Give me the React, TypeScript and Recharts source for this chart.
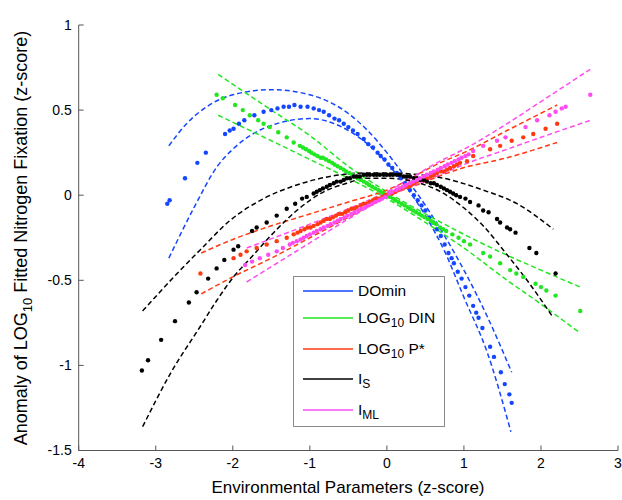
import React from "react";
import { ComposedChart, Scatter, Line, XAxis, YAxis, Legend } from "recharts";

// axis ticks
const xTicks = [-4, -3, -2, -1, 0, 1, 2, 3];
const yTicks = [-1.5, -1, -0.5, 0, 0.5, 1];

// fitted values (dots) as [x, y]
const domDots = [
  [-2.85, -0.05], [-2.82, -0.03], [-2.62, 0.1], [-2.46, 0.19], [-2.35, 0.25], [-2.1, 0.36],
  [-2.04, 0.38], [-1.99, 0.39], [-1.92, 0.42], [-1.85, 0.44], [-1.72, 0.47], [-1.6, 0.49],
  [-1.5, 0.5], [-1.42, 0.51], [-1.34, 0.52], [-1.27, 0.52], [-1.2, 0.53], [-1.12, 0.52],
  [-1.03, 0.52], [-0.95, 0.51], [-0.88, 0.5], [-0.82, 0.49], [-0.75, 0.47], [-0.68, 0.45],
  [-0.62, 0.44], [-0.56, 0.42], [-0.5, 0.4], [-0.44, 0.38], [-0.38, 0.36], [-0.3, 0.33],
  [-0.24, 0.3], [-0.18, 0.28], [-0.12, 0.25], [-0.08, 0.23], [-0.03, 0.21], [0.02, 0.18],
  [0.07, 0.16], [0.13, 0.13], [0.18, 0.1], [0.24, 0.07], [0.3, 0.03], [0.35, 0.0],
  [0.4, -0.03], [0.45, -0.06], [0.5, -0.09], [0.55, -0.13], [0.6, -0.16], [0.65, -0.2],
  [0.7, -0.24], [0.75, -0.29], [0.8, -0.34], [0.84, -0.37], [0.87, -0.4], [0.92, -0.45],
  [0.97, -0.49], [1.02, -0.54], [1.07, -0.59], [1.12, -0.65], [1.16, -0.69], [1.19, -0.72],
  [1.24, -0.78], [1.34, -0.89], [1.39, -0.95], [1.48, -1.04], [1.53, -1.11], [1.59, -1.17],
  [1.62, -1.22],
];
const dinDots = [
  [-2.21, 0.59], [-2.13, 0.57], [-1.97, 0.53], [-1.87, 0.5], [-1.78, 0.47], [-1.67, 0.44],
  [-1.6, 0.42], [-1.52, 0.4], [-1.41, 0.37], [-1.3, 0.34], [-1.21, 0.31], [-1.13, 0.29],
  [-1.09, 0.28], [-1.05, 0.27], [-1.01, 0.26], [-0.98, 0.25], [-0.94, 0.24], [-0.9, 0.23],
  [-0.86, 0.22], [-0.83, 0.22], [-0.79, 0.21], [-0.75, 0.2], [-0.71, 0.19], [-0.68, 0.18],
  [-0.64, 0.17], [-0.6, 0.16], [-0.56, 0.15], [-0.53, 0.14], [-0.49, 0.13], [-0.45, 0.12],
  [-0.41, 0.11], [-0.38, 0.1], [-0.34, 0.09], [-0.3, 0.08], [-0.26, 0.07], [-0.23, 0.06],
  [-0.19, 0.05], [-0.15, 0.04], [-0.11, 0.03], [-0.08, 0.02], [-0.04, 0.01], [0.0, 0.0],
  [0.04, -0.01], [0.08, -0.02], [0.11, -0.03], [0.15, -0.04], [0.19, -0.05], [0.23, -0.06],
  [0.27, -0.07], [0.3, -0.08], [0.34, -0.09], [0.38, -0.1], [0.42, -0.11], [0.45, -0.12],
  [0.49, -0.13], [0.53, -0.14], [0.57, -0.15], [0.6, -0.16], [0.64, -0.17], [0.69, -0.19],
  [0.73, -0.2], [0.77, -0.21], [0.85, -0.23], [0.93, -0.25], [1.0, -0.27], [1.08, -0.29],
  [1.25, -0.34], [1.34, -0.36], [1.47, -0.4], [1.6, -0.44], [1.68, -0.46], [1.77, -0.48],
  [1.93, -0.52], [2.0, -0.54], [2.07, -0.56], [2.19, -0.59], [2.51, -0.68],
];
const pDots = [
  [-2.42, -0.46], [-1.99, -0.37], [-1.9, -0.35], [-1.82, -0.33], [-1.69, -0.31], [-1.56, -0.29],
  [-1.43, -0.27], [-1.3, -0.25], [-1.21, -0.23], [-1.16, -0.22], [-1.12, -0.21], [-1.07, -0.2],
  [-1.03, -0.19], [-0.99, -0.19], [-0.95, -0.18], [-0.9, -0.17], [-0.86, -0.16], [-0.82, -0.15],
  [-0.78, -0.14], [-0.74, -0.14], [-0.7, -0.13], [-0.66, -0.12], [-0.62, -0.11], [-0.58, -0.11],
  [-0.54, -0.1], [-0.5, -0.09], [-0.46, -0.08], [-0.42, -0.08], [-0.39, -0.07], [-0.34, -0.06],
  [-0.3, -0.05], [-0.26, -0.05], [-0.22, -0.04], [-0.18, -0.03], [-0.14, -0.02], [-0.1, -0.02],
  [-0.06, -0.01], [-0.02, 0.0], [0.02, 0.01], [0.06, 0.01], [0.1, 0.02], [0.14, 0.03],
  [0.18, 0.04], [0.23, 0.05], [0.27, 0.05], [0.31, 0.06], [0.35, 0.07], [0.39, 0.08],
  [0.44, 0.09], [0.48, 0.09], [0.52, 0.1], [0.57, 0.11], [0.61, 0.12], [0.65, 0.13],
  [0.7, 0.14], [0.74, 0.14], [0.78, 0.15], [0.82, 0.16], [0.87, 0.17], [0.91, 0.18],
  [0.95, 0.19], [1.04, 0.2], [1.12, 0.23], [1.34, 0.27], [1.47, 0.29], [1.62, 0.32],
  [1.77, 0.34], [1.9, 0.36], [2.06, 0.39], [2.21, 0.42],
];
const isDots = [
  [-3.18, -1.03], [-3.1, -0.97], [-2.93, -0.85], [-2.75, -0.74], [-2.57, -0.63], [-2.47, -0.57],
  [-2.32, -0.49], [-2.21, -0.43], [-2.11, -0.38], [-1.99, -0.32], [-1.93, -0.3], [-1.75, -0.21],
  [-1.69, -0.19], [-1.56, -0.16], [-1.43, -0.12], [-1.3, -0.08], [-1.19, -0.05], [-1.1, -0.02],
  [-1.04, -0.01], [-0.95, 0.01], [-0.91, 0.02], [-0.87, 0.03], [-0.83, 0.04], [-0.78, 0.05],
  [-0.74, 0.06], [-0.69, 0.07], [-0.65, 0.08], [-0.6, 0.08], [-0.56, 0.09], [-0.52, 0.1],
  [-0.48, 0.1], [-0.43, 0.11], [-0.39, 0.11], [-0.35, 0.11], [-0.3, 0.12], [-0.26, 0.12],
  [-0.22, 0.12], [-0.17, 0.12], [-0.13, 0.12], [-0.09, 0.12], [-0.04, 0.12], [0.0, 0.12],
  [0.04, 0.12], [0.08, 0.12], [0.13, 0.12], [0.17, 0.12], [0.22, 0.11], [0.26, 0.11],
  [0.3, 0.11], [0.35, 0.1], [0.39, 0.1], [0.43, 0.09], [0.48, 0.09], [0.52, 0.08],
  [0.57, 0.07], [0.61, 0.07], [0.65, 0.06], [0.7, 0.05], [0.74, 0.04], [0.78, 0.03],
  [0.82, 0.02], [0.86, 0.01], [0.9, 0.0], [0.95, -0.01], [1.02, -0.02], [1.08, -0.04],
  [1.19, -0.06], [1.25, -0.09], [1.32, -0.1], [1.43, -0.14], [1.47, -0.16], [1.56, -0.19],
  [1.6, -0.2], [1.67, -0.22], [1.85, -0.31], [1.94, -0.34], [2.19, -0.46],
];
const imlDots = [
  [-1.84, -0.41], [-1.75, -0.39], [-1.65, -0.37], [-1.54, -0.35], [-1.43, -0.33], [-1.35, -0.31],
  [-1.26, -0.29], [-1.22, -0.28], [-1.17, -0.27], [-1.12, -0.26], [-1.08, -0.25], [-1.04, -0.24],
  [-1.0, -0.23], [-0.95, -0.22], [-0.91, -0.21], [-0.86, -0.2], [-0.82, -0.19], [-0.77, -0.18],
  [-0.73, -0.17], [-0.68, -0.16], [-0.64, -0.15], [-0.6, -0.14], [-0.55, -0.13], [-0.51, -0.12],
  [-0.46, -0.11], [-0.42, -0.1], [-0.37, -0.09], [-0.33, -0.08], [-0.28, -0.07], [-0.24, -0.06],
  [-0.19, -0.05], [-0.15, -0.04], [-0.1, -0.03], [-0.06, -0.02], [-0.02, -0.01], [0.03, 0.01],
  [0.07, 0.02], [0.12, 0.03], [0.16, 0.04], [0.21, 0.05], [0.25, 0.06], [0.3, 0.07],
  [0.34, 0.08], [0.39, 0.09], [0.43, 0.1], [0.48, 0.11], [0.52, 0.12], [0.57, 0.13],
  [0.61, 0.14], [0.66, 0.15], [0.7, 0.16], [0.75, 0.17], [0.79, 0.18], [0.84, 0.19],
  [0.88, 0.2], [0.93, 0.21], [0.97, 0.22], [1.02, 0.23], [1.06, 0.24], [1.12, 0.26],
  [1.25, 0.29], [1.43, 0.32], [1.54, 0.34], [1.8, 0.4], [1.95, 0.44], [2.11, 0.47],
  [2.19, 0.49], [2.27, 0.51], [2.32, 0.52], [2.64, 0.59],
];

// confidence bounds (dashed), [x, y]
const domUpper = [
  [-2.83, 0.29], [-2.6, 0.42], [-2.4, 0.5], [-2.0, 0.59], [-1.5, 0.62], [-1.0, 0.59],
  [-0.5, 0.48], [-0.25, 0.38], [0.0, 0.25], [0.25, 0.1], [0.5, -0.06], [0.75, -0.24],
  [1.0, -0.44], [1.3, -0.71], [1.62, -1.04],
];
const domLower = [
  [-2.83, -0.37], [-2.5, -0.07], [-2.2, 0.17], [-2.0, 0.27], [-1.5, 0.41], [-1.0, 0.45],
  [-0.5, 0.38], [-0.25, 0.3], [0.0, 0.19], [0.25, 0.05], [0.5, -0.12], [0.75, -0.33],
  [1.0, -0.6], [1.3, -0.92], [1.61, -1.39],
];
const dinUpper = [
  [-2.19, 0.71], [-1.5, 0.5], [-1.0, 0.35], [-0.5, 0.17], [0.0, 0.02], [0.5, -0.11],
  [1.0, -0.23], [1.5, -0.34], [2.0, -0.44], [2.51, -0.54],
];
const dinLower = [
  [-2.19, 0.47], [-1.5, 0.32], [-1.0, 0.21], [-0.5, 0.1], [0.0, -0.02], [0.5, -0.16],
  [1.0, -0.31], [1.5, -0.48], [2.0, -0.64], [2.51, -0.81],
];
const pUpper = [
  [-2.41, -0.34], [-2.0, -0.26], [-1.5, -0.18], [-1.0, -0.11], [-0.5, -0.04], [0.0, 0.03],
  [0.69, 0.19], [1.0, 0.25], [1.56, 0.38], [2.21, 0.53],
];
const pLower = [
  [-2.41, -0.58], [-2.0, -0.48], [-1.5, -0.37], [-1.0, -0.25], [-0.5, -0.13], [0.0, -0.01],
  [0.5, 0.08], [0.91, 0.15], [1.56, 0.22], [2.21, 0.31],
];
const isUpper = [
  [-3.17, -0.68], [-2.68, -0.44], [-2.42, -0.32], [-2.04, -0.15], [-1.6, -0.02], [-1.17, 0.06],
  [-0.74, 0.11], [-0.3, 0.13], [0.0, 0.13], [0.61, 0.11], [1.25, 0.03], [1.69, -0.05],
  [2.16, -0.2],
];
const isLower = [
  [-3.17, -1.36], [-2.8, -1.04], [-2.42, -0.77], [-2.21, -0.62], [-1.99, -0.48], [-1.75, -0.36],
  [-1.47, -0.22], [-1.17, -0.09], [-0.82, 0.02], [-0.52, 0.07], [-0.26, 0.1], [0.0, 0.1],
  [0.61, 0.04], [1.04, -0.09], [1.25, -0.18], [1.56, -0.35], [1.82, -0.5], [2.16, -0.72],
];
const imlUpper = [
  [-1.82, -0.31], [-1.0, -0.17], [-0.5, -0.08], [0.0, 0.02], [0.69, 0.2], [1.0, 0.27],
  [1.56, 0.42], [2.0, 0.55], [2.64, 0.74],
];
const imlLower = [
  [-1.82, -0.51], [-1.0, -0.28], [-0.5, -0.14], [0.0, -0.01], [0.69, 0.12], [1.0, 0.18],
  [1.56, 0.27], [2.0, 0.34], [2.64, 0.44],
];

const toPts = (arr: number[][]) => arr.map(([x, y]) => ({ x, y }));

const FONT = "'Liberation Sans', Arial, sans-serif";

const series = [
  { key: "dom", color: "#1446ff", dots: domDots, upper: domUpper, lower: domLower },
  { key: "din", color: "#22e622", dots: dinDots, upper: dinUpper, lower: dinLower },
  { key: "p", color: "#ff3a12", dots: pDots, upper: pUpper, lower: pLower },
  { key: "is", color: "#000000", dots: isDots, upper: isUpper, lower: isLower },
  { key: "iml", color: "#ff4cf0", dots: imlDots, upper: imlUpper, lower: imlLower },
];

const subStyle = { fontSize: 12 };
const legendLabels = [
  <>DOmin</>,
  <>LOG<sub style={subStyle}>10</sub> DIN</>,
  <>LOG<sub style={subStyle}>10</sub> P*</>,
  <>I<sub style={subStyle}>S</sub></>,
  <>I<sub style={subStyle}>ML</sub></>,
];
const legendRowY = [14, 41, 72, 102, 133];

const LegendBox = () => (
  <div
    style={{
      position: "relative",
      width: 152,
      height: 151,
      boxSizing: "border-box",
      border: "1.5px solid #8a8a8a",
      background: "#fff",
      fontFamily: FONT,
      fontSize: 15.5,
      color: "#000",
    }}
  >
    {series.map((s, i) => (
      <div key={s.key} style={{ position: "absolute", left: 0, top: legendRowY[i] - 10, height: 20, width: 150 }}>
        <svg width={52} height={20} style={{ position: "absolute", left: 8, top: 0 }}>
          <line x1={1} x2={51} y1={10} y2={10} stroke={s.color} strokeWidth={1.5} />
        </svg>
        <div style={{ position: "absolute", left: 64, top: 0, lineHeight: "20px", whiteSpace: "nowrap" }}>
          {legendLabels[i]}
        </div>
      </div>
    ))}
  </div>
);

const makeDot = (color: string) => (p: any) =>
  <circle cx={p.cx} cy={p.cy} r={2.2} fill={color} />;

export default function App() {
  return (
    <div style={{ position: "absolute", left: 0, top: 0, width: 622, height: 500, background: "#fff" }}>
      <ComposedChart width={622} height={500} margin={{ top: 25, right: 4, bottom: 0, left: 0 }}>
        <XAxis
          type="number"
          dataKey="x"
          domain={[-4, 3]}
          ticks={xTicks}
          allowDataOverflow
          height={49.5}
          stroke="#555"
          tickSize={-5}
          tickMargin={13}
          tick={{ fill: "#000", fontSize: 14, fontFamily: FONT }}
          label={{
            content: () => (
              <text x={348} y={493} textAnchor="middle" fontSize={17} fontFamily={FONT} fill="#000">
                Environmental Parameters (z-score)
              </text>
            ),
          }}
        />
        <YAxis
          type="number"
          dataKey="y"
          domain={[-1.5, 1]}
          ticks={yTicks}
          allowDataOverflow
          width={78.7}
          stroke="#555"
          tickSize={-5}
          tickMargin={12}
          tick={{ fill: "#000", fontSize: 14, fontFamily: FONT }}
          label={{
            content: () => (
              <text
                x={27}
                y={238}
                textAnchor="middle"
                fontSize={18}
                fontFamily={FONT}
                fill="#000"
                transform="rotate(-90, 27, 238)"
              >
                Anomaly of LOG
                <tspan fontSize={13} dy={5}>10</tspan>
                <tspan dy={-5}> Fitted Nitrogen Fixation (z-score)</tspan>
              </text>
            ),
          }}
        />
        {series.map((s) => [
          <Scatter
            key={s.key + "-dots"}
            data={toPts(s.dots)}
            dataKey="y"
            fill={s.color}
            shape={makeDot(s.color)}
            isAnimationActive={false}
          />,
          <Line
            key={s.key + "-up"}
            data={toPts(s.upper)}
            dataKey="y"
            type="monotone"
            stroke={s.color}
            strokeWidth={1.5}
            strokeDasharray="5 3"
            dot={false}
            activeDot={false}
            isAnimationActive={false}
          />,
          <Line
            key={s.key + "-lo"}
            data={toPts(s.lower)}
            dataKey="y"
            type="monotone"
            stroke={s.color}
            strokeWidth={1.5}
            strokeDasharray="5 3"
            dot={false}
            activeDot={false}
            isAnimationActive={false}
          />,
        ])}
        <Legend
          layout="horizontal"
          verticalAlign="middle"
          align="center"
          wrapperStyle={{ position: "absolute", left: 293, top: 276, width: 152, height: 151 }}
          content={() => <LegendBox />}
        />
      </ComposedChart>
    </div>
  );
}
